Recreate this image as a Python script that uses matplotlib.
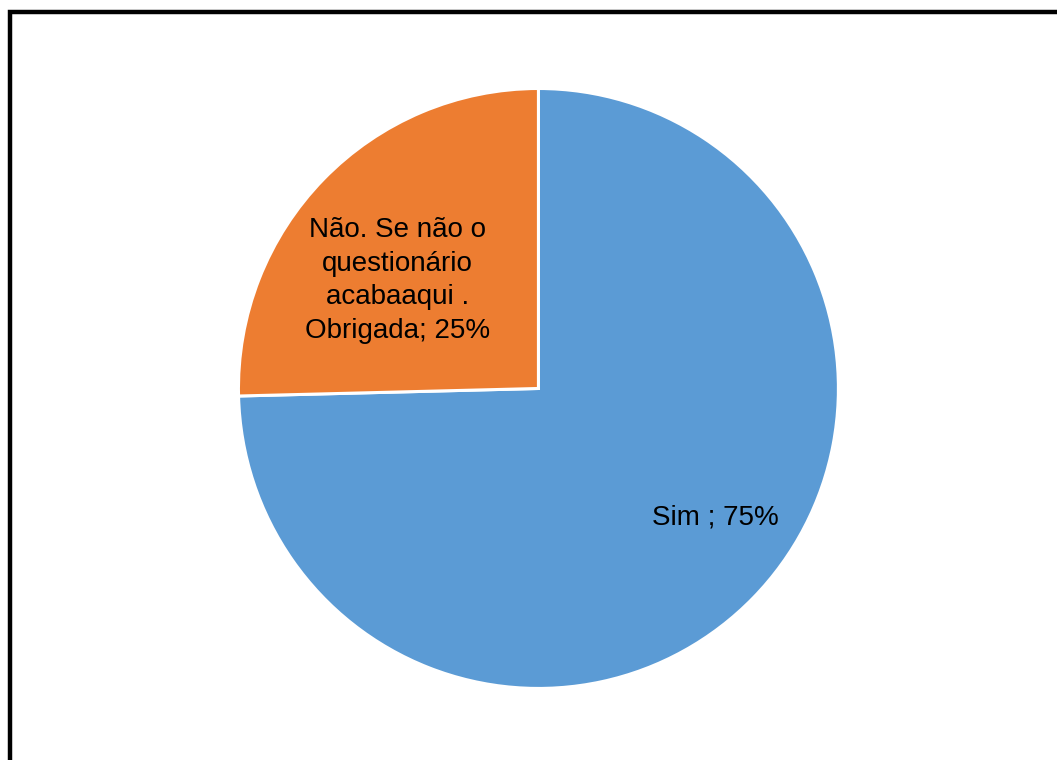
import matplotlib
matplotlib.use("Agg")
import matplotlib.pyplot as plt
from matplotlib.patches import Rectangle

plt.rcParams['font.family'] = ['Liberation Sans', 'DejaVu Sans']

# dados
categorias = ['Sim ', 'Não. Se não o\nquestionário\nacabaaqui .\nObrigada']
valores = [74.6, 25.4]
cores = ['#5B9BD5', '#ED7D31']
pos_rotulos = [(0.59, -0.43), (-0.47, 0.36)]

fig = plt.figure(figsize=(10.57, 7.6), dpi=100)
ax = fig.add_axes([0.2256, 0.0941, 0.5676, 0.7895])

ax.pie(valores, colors=cores, startangle=90, counterclock=False, radius=1,
       wedgeprops=dict(edgecolor='white', linewidth=2.2))

total = sum(valores)
for nome, v, (x, y) in zip(categorias, valores, pos_rotulos):
    ax.text(x, y, '%s; %d%%' % (nome, round(v / total * 100)),
            ha='center', va='center', fontsize=20, linespacing=1.38)

ax.set_xlim(-1, 1)
ax.set_ylim(-1, 1)
ax.set_aspect('equal')
ax.axis('off')

# moldura
fig.patches.append(Rectangle((10 / 1057, -0.1), 1.2, 1 - 11.5 / 760 + 0.1,
                             transform=fig.transFigure, fill=False,
                             edgecolor='black', linewidth=3.2))

fig.savefig('out.png', dpi=100)
